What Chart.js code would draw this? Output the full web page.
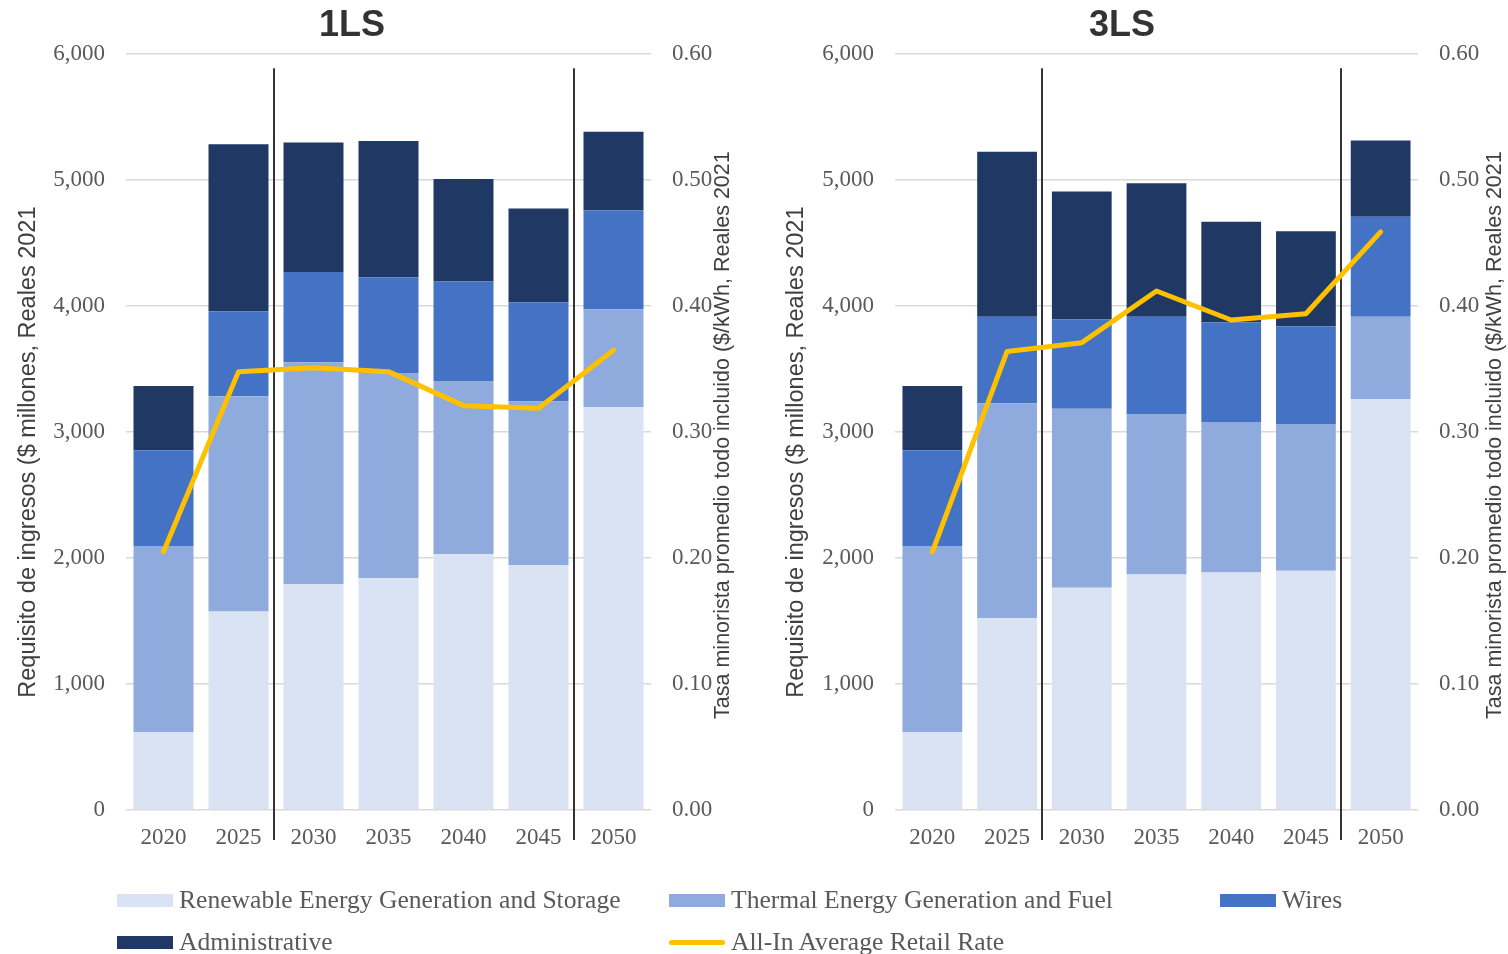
<!DOCTYPE html>
<html>
<head>
<meta charset="utf-8">
<script src="https://cdn.jsdelivr.net/npm/chart.js@4.4.1/dist/chart.umd.min.js"></script>
<style>
  html, body { margin: 0; padding: 0; background: #fff; width: 1508px; height: 954px; overflow: hidden; position: relative; }
  canvas { position: absolute; top: 2px; }
  #c1 { left: -46px; }
  #c2 { left: 736px; }
  #legend { position: absolute; left: 0; top: 0; width: 1508px; height: 954px; pointer-events: none;
            font-family: "Liberation Serif", "Times New Roman", serif; font-size: 25.6px; color: #595959; }
  .item { position: absolute; display: flex; align-items: center; white-space: nowrap; height: 30px; transform: translateY(-50%); }
  .sw { width: 56px; height: 13px; margin-right: 6px; flex: none; }
  .ln { width: 56px; height: 5px; border-radius: 3px; margin-right: 6px; flex: none; }
</style>
</head>
<body>
<canvas id="c1" width="796" height="870"></canvas>
<canvas id="c2" width="772" height="870"></canvas>
<div id="legend"></div>
<script>
// Years on the category axis
const categories = ['2020', '2025', '2030', '2035', '2040', '2045', '2050'];

// 1LS revenue requirement by component ($ millions, 2021 real)
const ls1Renewable = [620, 1575, 1795, 1840, 2030, 1945, 3200];
const ls1Thermal   = [1475, 1710, 1760, 1630, 1375, 1300, 775];
const ls1Wires     = [760, 675, 715, 760, 790, 785, 785];
const ls1Admin     = [510, 1325, 1030, 1080, 815, 745, 625];
// 1LS all-in average retail rate ($/kWh)
const ls1Rate      = [0.205, 0.348, 0.351, 0.348, 0.321, 0.319, 0.365];

// 3LS revenue requirement by component ($ millions, 2021 real)
const ls3Renewable = [620, 1525, 1765, 1870, 1885, 1900, 3260];
const ls3Thermal   = [1475, 1705, 1420, 1270, 1195, 1165, 655];
const ls3Wires     = [760, 685, 710, 775, 790, 775, 795];
const ls3Admin     = [510, 1310, 1015, 1060, 800, 755, 605];
// 3LS all-in average retail rate ($/kWh)
const ls3Rate      = [0.205, 0.364, 0.371, 0.412, 0.389, 0.394, 0.459];

// Axis ticks
const revenueTicks = [0, 1000, 2000, 3000, 4000, 5000, 6000];
const rateTicks    = [0, 0.1, 0.2, 0.3, 0.4, 0.5, 0.6];

// Series names and colours
const seriesNames = ['Renewable Energy Generation and Storage', 'Thermal Energy Generation and Fuel', 'Wires', 'Administrative', 'All-In Average Retail Rate'];
const seriesColors = ['#dae3f3', '#8faadc', '#4472c4', '#203864', '#ffc000'];

// Axis titles
const revenueTitle = 'Requisito de ingresos ($ millones, Reales 2021';
const rateTitle = 'Tasa minorista promedio todo incluido ($/kWh, Reales 2021';

// Period boundaries: dividers drawn after these category indices
const dividerAfter = [1, 5];

const tickFont = { family: '"Liberation Serif", "Times New Roman", serif', size: 23 };
const tickColor = '#595959';
const titleColor = '#404040';

const dividerPlugin = {
  id: 'periodDividers',
  beforeDatasetsDraw(chart, args, opts) {
    const { ctx, chartArea, scales: { x } } = chart;
    ctx.save();
    ctx.strokeStyle = opts.color;
    ctx.lineWidth = opts.width;
    opts.after.forEach(i => {
      const px = Math.round((x.getPixelForValue(i) + x.getPixelForValue(i + 1)) / 2) - 2;
      ctx.beginPath();
      ctx.moveTo(px, chartArea.top + 14);
      ctx.lineTo(px, chartArea.bottom + 30);
      ctx.stroke();
    });
    ctx.restore();
  }
};

// Both axis titles read bottom-to-top
const axisTitlePlugin = {
  id: 'axisTitles',
  afterDraw(chart, args, opts) {
    const { ctx, chartArea } = chart;
    const mid = (chartArea.top + chartArea.bottom) / 2;
    opts.items.forEach(t => {
      ctx.save();
      ctx.font = `${t.size}px "Liberation Sans", Arial, sans-serif`;
      ctx.fillStyle = titleColor;
      ctx.textAlign = 'center';
      ctx.textBaseline = 'middle';
      ctx.translate(t.x, mid + t.dy);
      ctx.rotate(-Math.PI / 2);
      ctx.fillText(t.text, 0, 0);
      ctx.restore();
    });
  }
};

function makeChart(id, title, ren, thr, wir, adm, rate, geom) {
  const bar = (label, data, color) => ({
    type: 'bar', label, data, backgroundColor: color, borderWidth: 0,
    stack: 'rev', yAxisID: 'y', order: 2, barPercentage: 0.8, categoryPercentage: 1.0
  });
  return new Chart(document.getElementById(id), {
    data: {
      labels: categories,
      datasets: [
        {
          type: 'line', label: seriesNames[4], data: rate, yAxisID: 'y1', order: 0,
          borderColor: seriesColors[4], borderWidth: 5, pointRadius: 0, tension: 0,
          borderCapStyle: 'round', borderJoinStyle: 'round', fill: false
        },
        bar(seriesNames[0], ren, seriesColors[0]),
        bar(seriesNames[1], thr, seriesColors[1]),
        bar(seriesNames[2], wir, seriesColors[2]),
        bar(seriesNames[3], adm, seriesColors[3])
      ]
    },
    options: {
      responsive: false,
      animation: false,
      layout: { padding: 0 },
      plugins: {
        legend: { display: false },
        tooltip: { enabled: false },
        title: {
          display: true, text: title, color: '#333333',
          font: { family: '"Liberation Sans", Arial, sans-serif', size: 36, weight: 'bold' },
          padding: { top: 2, bottom: 7 }
        },
        periodDividers: { after: dividerAfter, color: '#333333', width: 2 },
        axisTitles: {
          items: [
            { text: revenueTitle, size: 23.5, x: geom.leftTitleX, dy: 20 },
            { text: rateTitle, size: 21.5, x: geom.rightTitleX, dy: 3 }
          ]
        }
      },
      scales: {
        x: {
          stacked: true,
          grid: { display: false, drawTicks: false },
          border: { display: false },
          ticks: { font: tickFont, color: tickColor, padding: 14 },
          afterFit(s) { s.height = 62; }
        },
        y: {
          stacked: true, position: 'left', min: 0, max: 6000,
          afterBuildTicks(s) { s.ticks = revenueTicks.map(v => ({ value: v })); },
          ticks: { font: tickFont, color: tickColor, padding: 21,
                   callback: v => v.toLocaleString('en-US') },
          grid: { color: '#d9d9d9', lineWidth: 1.5, drawTicks: false },
          border: { display: false },
          afterFit(s) { s.width = geom.leftWidth; }
        },
        y1: {
          position: 'right', min: 0, max: 0.6,
          afterBuildTicks(s) { s.ticks = rateTicks.map(v => ({ value: v })); },
          ticks: { font: tickFont, color: tickColor, padding: 21,
                   callback: v => Number(v).toFixed(2) },
          grid: { display: false, drawTicks: false },
          border: { display: false },
          afterFit(s) { s.width = geom.rightWidth; }
        }
      }
    },
    plugins: [dividerPlugin, axisTitlePlugin]
  });
}

makeChart('c1', '1LS', ls1Renewable, ls1Thermal, ls1Wires, ls1Admin, ls1Rate,
          { leftWidth: 172, rightWidth: 99, leftTitleX: 75, rightTitleX: 769 });
makeChart('c2', '3LS', ls3Renewable, ls3Thermal, ls3Wires, ls3Admin, ls3Rate,
          { leftWidth: 159, rightWidth: 90, leftTitleX: 61, rightTitleX: 759 });

// Shared legend beneath both panels
const legendSlots = [
  { i: 0, x: 117, y: 900 }, { i: 1, x: 669, y: 900 }, { i: 2, x: 1220, y: 900 },
  { i: 3, x: 117, y: 942 }, { i: 4, x: 669, y: 942 }
];
const legend = document.getElementById('legend');
legendSlots.forEach(({ i, x, y }) => {
  const item = document.createElement('div');
  item.className = 'item';
  item.style.left = x + 'px';
  item.style.top = y + 'px';
  const sw = document.createElement('span');
  sw.className = i === 4 ? 'ln' : 'sw';
  sw.style.background = seriesColors[i];
  const tx = document.createElement('span');
  tx.textContent = seriesNames[i];
  item.appendChild(sw);
  item.appendChild(tx);
  legend.appendChild(item);
});
</script>
</body>
</html>
